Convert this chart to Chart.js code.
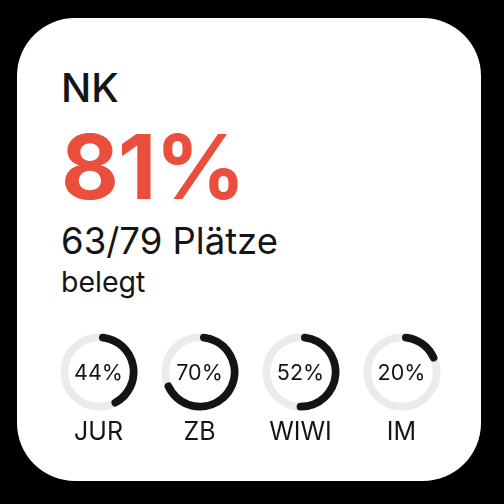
<!DOCTYPE html>
<html>
<head>
<meta charset="utf-8">
<script src="https://cdn.jsdelivr.net/npm/chart.js@4"></script>
<style>
  html, body { margin:0; padding:0; background:#000; width:504px; height:504px; overflow:hidden; }
  body { font-family: Inter, "Noto Sans", "DejaVu Sans", sans-serif; color:#151515; position:relative; }
  #card { position:absolute; left:17px; top:18px; width:464px; height:463px; background:#fff; border-radius:58px; }
  .t { position:absolute; left:61px; line-height:1; white-space:nowrap; }
  #name { top:68px; font-size:40px; font-weight:500; }
  #pct { top:122px; font-size:89px; font-weight:700; color:#EA4F3E; letter-spacing:-1px; }
  #seats { top:223px; font-size:36.5px; }
  #sub { top:268px; font-size:28.5px; }
  #row { position:absolute; left:48px; top:332px; display:flex; }
  .cell { width:101px; position:relative; height:120px; }
  .cell canvas { position:absolute; left:10.5px; top:0; }
  .cv { position:absolute; left:0; width:101px; text-align:center; top:30px; font-size:21.5px; line-height:1; }
  .lb { position:absolute; left:0; width:101px; text-align:center; top:86.5px; font-size:25px; line-height:1; }
</style>
</head>
<body>
<div id="card"></div>
<div class="t" id="name"></div>
<div class="t" id="pct"></div>
<div class="t" id="seats"></div>
<div class="t" id="sub"></div>
<div id="row"></div>
<script>
const mainName = "NK";
const mainPercent = 81;
const seatsTaken = 63;
const seatsTotal = 79;
const subText = "belegt";

const categories = ["JUR", "ZB", "WIWI", "IM"];
const values = [44, 70, 52, 20];

document.getElementById('name').textContent = mainName;
document.getElementById('pct').textContent = mainPercent + '%';
document.getElementById('seats').textContent = seatsTaken + '/' + seatsTotal + ' Plätze';
document.getElementById('sub').textContent = subText;

const trackPlugin = {
  id: 'track',
  beforeDatasetsDraw(chart) {
    const arc = chart.getDatasetMeta(0).data[0];
    if (!arc) return;
    const { x, y, innerRadius, outerRadius } = arc.getProps(['x','y','innerRadius','outerRadius'], true);
    const ctx = chart.ctx;
    ctx.save();
    ctx.beginPath();
    ctx.arc(x, y, (innerRadius + outerRadius) / 2, 0, Math.PI * 2);
    ctx.lineWidth = outerRadius - innerRadius;
    ctx.strokeStyle = '#EBEBEB';
    ctx.stroke();
    ctx.restore();
  }
};

const row = document.getElementById('row');
categories.forEach((cat, i) => {
  const cell = document.createElement('div');
  cell.className = 'cell';
  const cv = document.createElement('canvas');
  cv.width = 80; cv.height = 80;
  cv.style.width = '80px'; cv.style.height = '80px';
  cell.appendChild(cv);
  const v = document.createElement('div');
  v.className = 'cv';
  v.textContent = values[i] + '%';
  cell.appendChild(v);
  const lb = document.createElement('div');
  lb.className = 'lb';
  lb.textContent = cat;
  cell.appendChild(lb);
  row.appendChild(cell);

  new Chart(cv, {
    type: 'doughnut',
    data: {
      labels: [cat, ''],
      datasets: [{
        data: [values[i], 100 - values[i]],
        backgroundColor: ['#141414', 'rgba(0,0,0,0)'],
        borderWidth: 0,
        borderRadius: (c) => c.dataIndex === 0 ? 10 : 0
      }]
    },
    options: {
      responsive: false,
      animation: false,
      events: [],
      cutout: '80%',
      layout: { padding: 1.5 },
      plugins: { legend: { display: false }, tooltip: { enabled: false } }
    },
    plugins: [trackPlugin]
  });
});
</script>
</body>
</html>
